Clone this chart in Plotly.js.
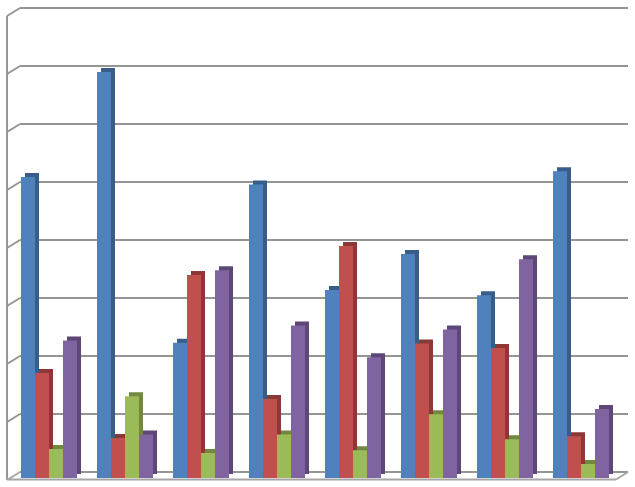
<!DOCTYPE html>
<html>
<head>
<meta charset="utf-8">
<script src="https://cdn.plot.ly/plotly-3.0.1.min.js"></script>
<style>html,body{margin:0;padding:0;background:#fff;}#chart{width:635px;height:487px;}</style>
</head>
<body>
<div id="chart"></div>
<script>
// ---- data ----
const categories = ['1', '2', '3', '4', '5', '6', '7', '8'];
const series1 = [5.19, 7.00, 2.33, 5.06, 3.24, 3.86, 3.15, 5.29];
const series2 = [1.81, 0.69, 3.50, 1.36, 4.00, 2.32, 2.24, 0.72];
const series3 = [0.50, 1.41, 0.43, 0.75, 0.48, 1.10, 0.67, 0.24];
const series4 = [2.37, 0.75, 3.58, 2.63, 2.08, 2.56, 3.77, 1.19];
const seriesNames = ['Series 1', 'Series 2', 'Series 3', 'Series 4'];
const gridValues = [0, 1, 2, 3, 4, 5, 6, 7, 8];

// ---- styling ----
const W = 635, H = 487;
const frontColors = ['#4F81BD', '#C0504D', '#9BBB59', '#8064A2'];
const sideColors  = ['#385D8A', '#8C3836', '#71893F', '#5C4776'];
const allSeries = [series1, series2, series3, series4];

const pxPerCat = 76;          // pixels per category
const pxPerUnit = 58;         // pixels per value unit
const barW = 14 / pxPerCat;   // bar width in category units
const depthX = 4 / pxPerCat;  // 3D depth shift (x)
const depthY = 4 / pxPerUnit; // 3D depth shift (y)
const groupStart = -28 / pxPerCat;

const traces = [];
// depth (side + top) faces first
allSeries.forEach((vals, j) => {
  traces.push({
    type: 'bar', x: categories, y: vals, base: depthY,
    offset: groupStart + j * barW + depthX, width: barW,
    marker: {color: sideColors[j], line: {width: 0}},
    hoverinfo: 'skip', showlegend: false
  });
});
// front faces
allSeries.forEach((vals, j) => {
  traces.push({
    type: 'bar', name: seriesNames[j], x: categories, y: vals,
    offset: groupStart + j * barW, width: barW,
    marker: {color: frontColors[j], line: {width: 0}},
    showlegend: false
  });
});

// axis geometry (pixels)
const xLeft = 11, xRight = 619;
const baseY = 478;
const yMin = -0.15;
const yMax = 8.15;
const yBotPx = baseY - yMin * pxPerUnit;
const yTopPx = baseY - yMax * pxPerUnit;
const px = v => v / W;
const backOffset = 6 / pxPerUnit; // back wall is 6px above the front baseline
const wallSlope = 8 / pxPerUnit;

const lineStyle = {color: '#959595', width: 2};
const floorStyle = {color: '#a6a6a6', width: 2};
const shapes = [];
// back-wall gridlines with left-wall diagonals
gridValues.forEach(k => {
  const yb = k + backOffset;
  shapes.push({type: 'line', xref: 'paper', yref: 'y', x0: px(20), x1: px(628), y0: yb, y1: yb, line: lineStyle, layer: 'below'});
  if (k > 0) {
    shapes.push({type: 'line', xref: 'paper', yref: 'y', x0: px(7), x1: px(20), y0: yb - wallSlope, y1: yb, line: lineStyle, layer: 'below'});
  }
});
// left wall vertical
shapes.push({type: 'line', xref: 'paper', yref: 'y', x0: px(7), x1: px(7), y0: -2 / pxPerUnit, y1: 8 + backOffset - wallSlope, line: lineStyle, layer: 'below'});
// floor front edge and diagonals
const floorFront = -1.5 / pxPerUnit;
shapes.push({type: 'line', xref: 'paper', yref: 'y', x0: px(7), x1: px(616), y0: floorFront, y1: floorFront, line: floorStyle, layer: 'below'});
shapes.push({type: 'line', xref: 'paper', yref: 'y', x0: px(616), x1: px(628), y0: floorFront, y1: backOffset, line: floorStyle, layer: 'below'});
shapes.push({type: 'line', xref: 'paper', yref: 'y', x0: px(8), x1: px(20), y0: floorFront, y1: backOffset, line: floorStyle, layer: 'below'});

const layout = {
  width: W, height: H,
  margin: {l: 0, r: 0, t: 0, b: 0, pad: 0},
  paper_bgcolor: '#ffffff', plot_bgcolor: 'rgba(0,0,0,0)',
  barmode: 'overlay',
  showlegend: false,
  xaxis: {
    type: 'category', domain: [xLeft / W, xRight / W], range: [-0.5, 7.5],
    showgrid: false, zeroline: false, showticklabels: false, showline: false, ticks: ''
  },
  yaxis: {
    domain: [(H - yBotPx) / H, (H - yTopPx) / H], range: [yMin, yMax],
    showgrid: false, zeroline: false, showticklabels: false, showline: false, ticks: ''
  },
  shapes: shapes
};

Plotly.newPlot('chart', traces, layout, {displayModeBar: false, staticPlot: true});
</script>
</body>
</html>
